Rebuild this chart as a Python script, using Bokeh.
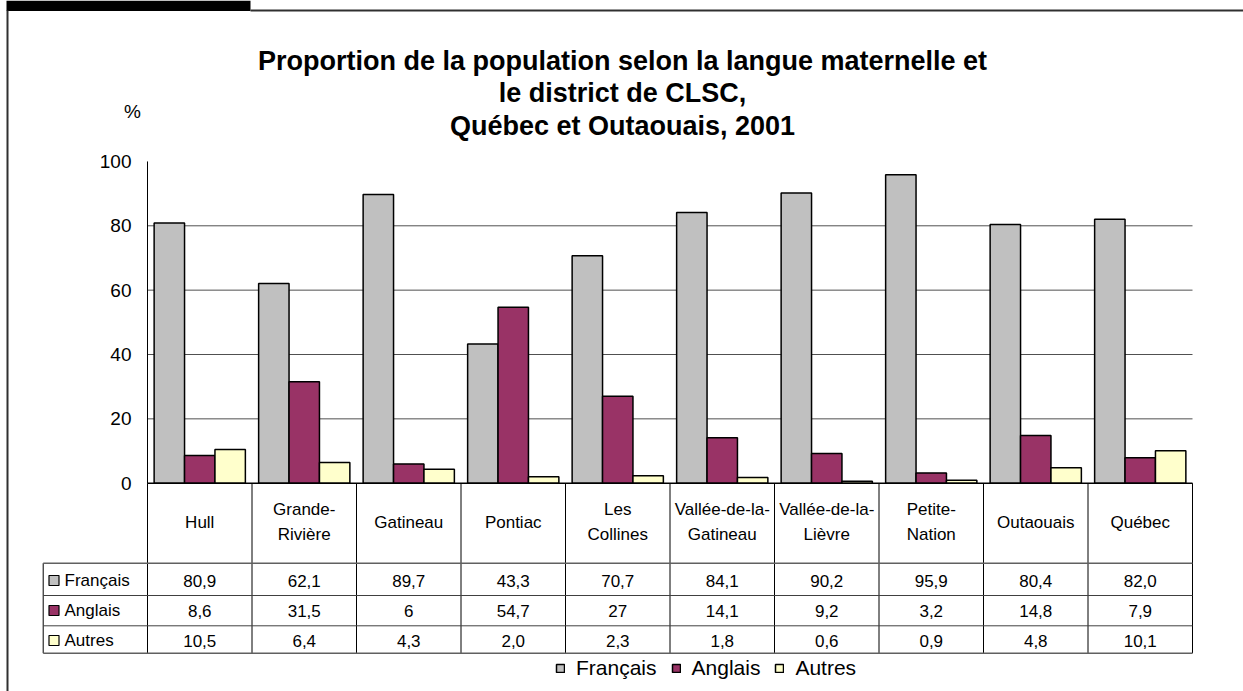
from bokeh.plotting import figure
from bokeh.models import Range1d, Legend, LegendItem
from bokeh.core.properties import value
from bokeh.embed import file_html
from bokeh.resources import INLINE

# ---------------- data ----------------
categories = ["Hull", "Grande-\nRivière", "Gatineau", "Pontiac", "Les\nCollines",
              "Vallée-de-la-\nGatineau", "Vallée-de-la-\nLièvre", "Petite-\nNation",
              "Outaouais", "Québec"]
francais_txt = ["80,9", "62,1", "89,7", "43,3", "70,7", "84,1", "90,2", "95,9", "80,4", "82,0"]
anglais_txt = ["8,6", "31,5", "6", "54,7", "27", "14,1", "9,2", "3,2", "14,8", "7,9"]
autres_txt = ["10,5", "6,4", "4,3", "2,0", "2,3", "1,8", "0,6", "0,9", "4,8", "10,1"]
series_names = ["Français", "Anglais", "Autres"]
series_colors = ["#C0C0C0", "#993366", "#FFFFCC"]
y_ticks = [0, 20, 40, 60, 80, 100]
title_lines = ["Proportion de la population selon la langue maternelle et",
               "le district de CLSC,",
               "Québec et Outaouais, 2001"]
y_unit_label = "%"

francais = [float(s.replace(",", ".")) for s in francais_txt]
anglais = [float(s.replace(",", ".")) for s in anglais_txt]
autres = [float(s.replace(",", ".")) for s in autres_txt]
series_vals = [francais, anglais, autres]
series_txt = [francais_txt, anglais_txt, autres_txt]

# ---------------- layout helpers (page px -> data units) ----------------
W, H = 1243, 691
OX, OY = 0, 0
AX_LEFT, CAT_W = 147.0, 104.5
ZERO_Y, PX_PER_PCT = 482.7, 3.2175


def X(px):
    return (px - AX_LEFT) / CAT_W


def Y(py):
    return (ZERO_Y - py) / PX_PER_PCT


n = len(categories)
p = figure(width=W, height=H, output_backend="svg", toolbar_location=None,
           x_range=Range1d(X(OX), X(OX + W)), y_range=Range1d(Y(OY + H), Y(OY)),
           min_border=0, outline_line_color=None)
p.axis.visible = False
p.grid.visible = False
p.background_fill_color = "white"

FONT = value("Liberation Sans")

# page frame
p.quad(left=[X(6)], right=[X(250)], top=[Y(0)], bottom=[Y(10.5)],
       fill_color="black", line_color=None)
p.segment(x0=[X(250)], y0=[Y(10)], x1=[X(OX + W)], y1=[Y(10)],
          line_color="#303030", line_width=2)
p.segment(x0=[X(7)], y0=[Y(10)], x1=[X(7)], y1=[Y(OY + H)],
          line_color="#303030", line_width=2)

# title
for k, t in enumerate(title_lines):
    p.text(x=[X(622)], y=[Y(60 + 32.5 * k)], text=[t], text_font=FONT,
           text_font_size=value("27px"), text_font_style="bold",
           text_align="center", text_baseline="middle", text_color="black")

# gridlines
grid_y = [t for t in y_ticks if 0 < t < 100]
p.segment(x0=[0] * len(grid_y), y0=grid_y, x1=[n] * len(grid_y), y1=grid_y,
          line_color="#505050", line_width=1)

# bars
bw = 0.291
offsets = [-bw, 0.0, bw]
bar_renderers = []
for s in range(3):
    r = p.vbar(x=[i + 0.5 + offsets[s] for i in range(n)], width=bw,
               top=series_vals[s], bottom=0, fill_color=series_colors[s],
               line_color="black", line_width=1.5)
    bar_renderers.append(r)

# axes
p.segment(x0=[0], y0=[0], x1=[0], y1=[100], line_color="black", line_width=1)
p.segment(x0=[0], y0=[0], x1=[n], y1=[0], line_color="black", line_width=1.5)
p.text(x=[X(131)] * len(y_ticks), y=y_ticks, text=[str(t) for t in y_ticks],
       text_font=FONT, text_font_size=value("19px"), text_align="right",
       text_baseline="middle", text_color="black")
p.text(x=[X(132)], y=[Y(111)], text=[y_unit_label], text_font=FONT,
       text_font_size=value("19px"), text_align="center", text_baseline="middle")

# data table
row_lines = [562.7, 595.0, 625.3, 652.7]
row_centers = [580, 610, 640]
tbl_left = X(42.7)
p.segment(x0=list(range(n + 1)), y0=[0] * (n + 1), x1=list(range(n + 1)),
          y1=[Y(row_lines[-1])] * (n + 1), line_color="black", line_width=1)
p.segment(x0=[tbl_left], y0=[Y(row_lines[0])], x1=[tbl_left], y1=[Y(row_lines[-1])],
          line_color="black", line_width=1)
for k, ry in enumerate(row_lines):
    p.segment(x0=[tbl_left], y0=[Y(ry)], x1=[n], y1=[Y(ry)],
              line_color="#606060" if k in (0, 3) else "#404040",
              line_width=1.5 if k in (0, 3) else 1)
p.text(x=[i + 0.5 for i in range(n)], y=[Y(521.5)] * n, text=categories,
       text_font=FONT, text_font_size=value("17px"), text_align="center",
       text_baseline="middle", text_line_height=1.35, text_color="black")
for s in range(3):
    yy = Y(row_centers[s])
    p.text(x=[i + 0.5 for i in range(n)], y=[yy] * n, text=series_txt[s],
           text_font=FONT, text_font_size=value("17px"), text_align="center",
           text_baseline="middle", text_color="black")
    p.scatter(x=[X(53.5)], y=[yy], marker="square", size=10,
              fill_color=series_colors[s], line_color="black", line_width=1.2)
    p.text(x=[X(64)], y=[yy], text=[series_names[s]], text_font=FONT,
           text_font_size=value("17px"), text_align="left",
           text_baseline="middle", text_color="black")

# legend
legend = Legend(items=[LegendItem(label=series_names[s], renderers=[bar_renderers[s]])
                       for s in range(3)],
                orientation="horizontal", location=(555, 11),
                glyph_width=10, glyph_height=10, label_text_font_size="21px",
                label_text_font="Liberation Sans", label_text_color="black",
                label_standoff=11, spacing=14,
                padding=0, margin=0, border_line_alpha=0, background_fill_alpha=0,
                label_height=20)
p.add_layout(legend, "center")

open("out.html", "w").write(file_html(p, INLINE))
